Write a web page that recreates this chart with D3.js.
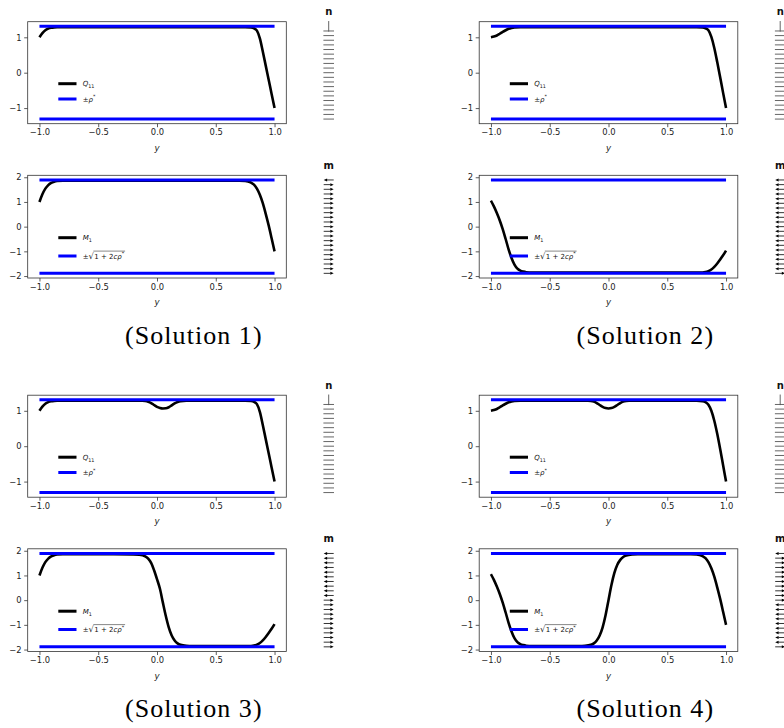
<!DOCTYPE html>
<html><head><meta charset="utf-8">
<script src="https://cdn.jsdelivr.net/npm/d3@7"></script>
<style>body{margin:0;background:#fff} svg{display:block}</style>
</head><body>
<svg id="c" width="784" height="728"></svg>
<script>
// ---------------- data ----------------
const rhoStar = 1.31;          // ±ρ*
const mBound = 1.89;           // ±sqrt(1+2cρ*)
const xTicks = [-1, -0.5, 0, 0.5, 1];
const qTicks = [-1, 0, 1];
const mTicks = [-2, -1, 0, 1, 2];
const captions = ["(Solution 1)", "(Solution 2)", "(Solution 3)", "(Solution 4)"];

const q1Y = [-1,-0.975,-0.95,-0.925,-0.9,-0.875,-0.85,-0.8,-0.7,-0.5,0,0.5,0.7,0.75,0.8,0.825,0.85,0.875,0.9,0.925,0.95,0.975,1];
const q1V = [1.0,1.12,1.20,1.245,1.268,1.279,1.283,1.285,1.285,1.285,1.285,1.285,1.285,1.284,1.275,1.255,1.19,0.97,0.60,0.20,-0.20,-0.60,-1.0];
const m1Y = [-1,-0.975,-0.95,-0.925,-0.9,-0.875,-0.85,-0.8,-0.7,0,0.65,0.7,0.75,0.775,0.8,0.825,0.85,0.875,0.9,0.925,0.95,0.975,1];
const m1V = [1.0,1.31,1.54,1.68,1.77,1.82,1.845,1.86,1.86,1.86,1.86,1.858,1.85,1.83,1.785,1.70,1.54,1.29,0.95,0.52,0.05,-0.47,-1.0];

const q2Y = [-1,-0.975,-0.95,-0.925,-0.9,-0.875,-0.85,-0.825,-0.8,-0.75,-0.7,0,0.7,0.75,0.8,0.825,0.85,0.875,0.9,0.925,0.95,0.975,1];
const q2V = [1.0,1.02,1.05,1.10,1.155,1.20,1.24,1.265,1.278,1.285,1.285,1.285,1.285,1.284,1.275,1.255,1.20,1.01,0.70,0.30,-0.13,-0.57,-1.0];
const m2Y = [-1,-0.975,-0.95,-0.925,-0.9,-0.875,-0.85,-0.825,-0.8,-0.775,-0.75,-0.725,-0.7,-0.65,0,0.75,0.8,0.825,0.85,0.875,0.9,0.925,0.95,0.975,1];
const m2V = [1.05,0.82,0.55,0.25,-0.10,-0.50,-0.92,-1.27,-1.54,-1.70,-1.78,-1.82,-1.845,-1.86,-1.86,-1.86,-1.855,-1.84,-1.80,-1.735,-1.63,-1.49,-1.33,-1.16,-0.97];

const q3Y = [-1,-0.975,-0.95,-0.925,-0.9,-0.875,-0.85,-0.8,-0.5,-0.125,-0.1,-0.075,-0.05,-0.025,0,0.025,0.05,0.075,0.1,0.125,0.15,0.175,0.2,0.25,0.5,0.75,0.8,0.825,0.85,0.875,0.9,0.925,0.95,0.975,1];
const q3V = [1.0,1.12,1.20,1.245,1.268,1.279,1.283,1.285,1.285,1.285,1.275,1.255,1.22,1.165,1.11,1.08,1.066,1.07,1.10,1.155,1.21,1.25,1.272,1.285,1.285,1.284,1.275,1.255,1.19,0.97,0.60,0.20,-0.20,-0.60,-1.0];
const m3Y = [-1,-0.975,-0.95,-0.925,-0.9,-0.875,-0.85,-0.8,-0.5,-0.2,-0.15,-0.1,-0.075,-0.05,-0.025,0,0.025,0.05,0.075,0.1,0.125,0.15,0.175,0.2,0.25,0.3,0.75,0.8,0.825,0.85,0.875,0.9,0.925,0.95,0.975,1];
const m3V = [1.0,1.31,1.54,1.68,1.77,1.82,1.845,1.86,1.86,1.855,1.84,1.77,1.68,1.51,1.21,0.85,0.46,-0.10,-0.64,-1.10,-1.43,-1.63,-1.75,-1.81,-1.85,-1.86,-1.86,-1.855,-1.84,-1.80,-1.735,-1.63,-1.49,-1.33,-1.16,-0.97];

const q4Y = [-1,-0.975,-0.95,-0.925,-0.9,-0.875,-0.85,-0.825,-0.8,-0.75,-0.5,-0.175,-0.15,-0.125,-0.1,-0.075,-0.05,-0.025,0,0.025,0.05,0.075,0.1,0.125,0.15,0.175,0.5,0.75,0.8,0.825,0.85,0.875,0.9,0.925,0.95,0.975,1];
const q4V = [1.0,1.02,1.05,1.10,1.155,1.20,1.24,1.265,1.278,1.285,1.285,1.285,1.278,1.26,1.22,1.165,1.11,1.076,1.065,1.076,1.11,1.165,1.22,1.26,1.278,1.285,1.285,1.283,1.27,1.245,1.17,1.00,0.72,0.35,-0.08,-0.54,-1.0];
const m4Y = [-1,-0.975,-0.95,-0.925,-0.9,-0.875,-0.85,-0.825,-0.8,-0.775,-0.75,-0.725,-0.7,-0.65,-0.25,-0.2,-0.15,-0.125,-0.1,-0.075,-0.05,-0.025,0,0.025,0.05,0.075,0.1,0.125,0.15,0.2,0.25,0.65,0.7,0.75,0.775,0.8,0.825,0.85,0.875,0.9,0.925,0.95,0.975,1];
const m4V = [1.05,0.82,0.55,0.25,-0.10,-0.50,-0.92,-1.27,-1.54,-1.70,-1.78,-1.82,-1.845,-1.86,-1.86,-1.85,-1.81,-1.75,-1.63,-1.43,-1.10,-0.61,0.0,0.61,1.10,1.43,1.63,1.75,1.81,1.85,1.86,1.86,1.858,1.85,1.83,1.785,1.70,1.54,1.29,0.95,0.52,0.05,-0.47,-1.0];

// director / magnetisation glyphs at y = 1, 0.9, ..., -1 (top to bottom)
const glyphY = [1,0.9,0.8,0.7,0.6,0.5,0.4,0.3,0.2,0.1,0,-0.1,-0.2,-0.3,-0.4,-0.5,-0.6,-0.7,-0.8,-0.9,-1];
const nAng1 = [90,0,0,0,0,0,0,0,0,0,0,0,0,0,0,0,0,0,0,0,0];
const nAng2 = [90,0,0,0,0,0,0,0,0,0,0,0,0,0,0,0,0,0,0,0,0];
const nAng3 = [90,0,0,0,0,0,0,0,0,0,0,0,0,0,0,0,0,0,0,0,0];
const nAng4 = [90,0,0,0,0,0,0,0,0,0,0,0,0,0,0,0,0,0,0,0,0];
const mDir1 = [-1,1,1,1,1,1,1,1,1,1,1,1,1,1,1,1,1,1,1,1,1];
const mDir2 = [-1,-1,-1,-1,-1,-1,-1,-1,-1,-1,-1,-1,-1,-1,-1,-1,-1,-1,-1,-1,1];
const mDir3 = [-1,-1,-1,-1,-1,-1,-1,-1,-1,-1,1,1,1,1,1,1,1,1,1,1,1];
const mDir4 = [-1,1,1,1,1,1,1,1,1,1,1,-1,-1,-1,-1,-1,-1,-1,-1,-1,1];

// ---------------- drawing ----------------
const svg = d3.select("#c");
const FONT = "DejaVu Sans, sans-serif";
const offsets = [[0,0],[451.5,0],[0,373.5],[451.5,373.5]];
const sols = [
  {qY:q1Y,qV:q1V,mY:m1Y,mV:m1V,nA:nAng1,mD:mDir1},
  {qY:q2Y,qV:q2V,mY:m2Y,mV:m2V,nA:nAng2,mD:mDir2},
  {qY:q3Y,qV:q3V,mY:m3Y,mV:m3V,nA:nAng3,mD:mDir3},
  {qY:q4Y,qV:q4V,mY:m4Y,mV:m4V,nA:nAng4,mD:mDir4}
];
const B = {x0:27.7, x1:286.3, qTop:21.7, qBot:123.7, mTop:175.3, mBot:278.0, gx:328.7};

function richText(g, x, y, segs, fs, anchor) {
  const t = g.append("text").attr("x", x).attr("y", y)
    .attr("font-family", FONT).attr("font-size", fs).attr("fill", "#111")
    .attr("text-anchor", anchor || "start");
  let shift = 0;
  segs.forEach(s => {
    const ts = t.append("tspan").text(s.t);
    let target = 0, size = fs;
    if (s.sub) { target = fs*0.28; size = fs*0.7; }
    if (s.sup) { target = -fs*0.45; size = fs*0.7; }
    if (s.size) size = fs*s.size;
    ts.attr("dy", target - shift).attr("font-size", size);
    if (s.i) ts.attr("font-style", "italic");
    shift = target;
  });
  return t;
}

function frameAxes(g, x, y, top, bot, yt) {
  const ax = g.append("g").attr("transform", `translate(0,${bot})`)
    .call(d3.axisBottom(x).tickValues(xTicks).tickFormat(d3.format(".1f")).tickSize(3.5).tickPadding(2.2).tickSizeOuter(0));
  const ay = g.append("g").attr("transform", `translate(${B.x0},0)`)
    .call(d3.axisLeft(y).tickValues(yt).tickFormat(d3.format("d")).tickSize(3.5).tickPadding(2.5).tickSizeOuter(0));
  [ax, ay].forEach(a => {
    a.select(".domain").remove();
    a.selectAll("line").attr("stroke", "#333").attr("stroke-width", 0.8);
    a.selectAll("text").attr("font-family", FONT).attr("font-size", 8.4).attr("fill", "#222");
  });
  g.append("rect").attr("x", B.x0).attr("y", top).attr("width", B.x1 - B.x0).attr("height", bot - top)
    .attr("fill", "none").attr("stroke", "#333").attr("stroke-width", 0.8);
  g.append("text").attr("x", x(0)).attr("y", bot + 27).attr("text-anchor", "middle")
    .attr("font-family", FONT).attr("font-size", 8.6).attr("font-style", "italic").attr("fill", "#222").text("y");
}

sols.forEach((s, i) => {
  const [ox, oy] = offsets[i];
  const g = svg.append("g").attr("transform", `translate(${ox},${oy})`);
  const x = d3.scaleLinear().domain([-1.1, 1.1]).range([B.x0, B.x1]);
  const yq = d3.scaleLinear().domain([-1.441, 1.441]).range([B.qBot, B.qTop]);
  const ym = d3.scaleLinear().domain([-2.079, 2.079]).range([B.mBot, B.mTop]);
  const line = (yy) => d3.line().x(d => x(d[0])).y(d => yy(d[1])).curve(d3.curveMonotoneX);

  // ---- Q panel ----
  frameAxes(g, x, yq, B.qTop, B.qBot, qTicks);
  g.append("path").datum(s.qY.map((v, k) => [v, s.qV[k]])).attr("d", line(yq))
    .attr("fill", "none").attr("stroke", "#000").attr("stroke-width", 2.6).attr("stroke-linejoin", "round");
  [rhoStar, -rhoStar].forEach(v => {
    g.append("path").datum([[-1, v], [1, v]]).attr("d", line(yq))
      .attr("fill", "none").attr("stroke", "#0000ff").attr("stroke-width", 3);
  });
  // legend
  const lq = [{c:"#000", y:B.qTop + 62}, {c:"#0000ff", y:B.qTop + 77.3}];
  lq.forEach(l => g.append("line").attr("x1", 58.3).attr("x2", 76.5).attr("y1", l.y).attr("y2", l.y)
    .attr("stroke", l.c).attr("stroke-width", 3));
  richText(g, 82.7, lq[0].y + 2.5, [{t:"Q", i:true}, {t:"11", sub:true}], 7);
  richText(g, 82.7, lq[1].y + 2.5, [{t:"±"}, {t:"ρ", i:true}, {t:"*", sup:true}], 7);

  // ---- M panel ----
  frameAxes(g, x, ym, B.mTop, B.mBot, mTicks);
  g.append("path").datum(s.mY.map((v, k) => [v, s.mV[k]])).attr("d", line(ym))
    .attr("fill", "none").attr("stroke", "#000").attr("stroke-width", 2.6).attr("stroke-linejoin", "round");
  [mBound, -mBound].forEach(v => {
    g.append("path").datum([[-1, v], [1, v]]).attr("d", line(ym))
      .attr("fill", "none").attr("stroke", "#0000ff").attr("stroke-width", 3);
  });
  const lm = [{c:"#000", y:B.mTop + 62.4}, {c:"#0000ff", y:B.mTop + 80.7}];
  lm.forEach(l => g.append("line").attr("x1", 58.3).attr("x2", 76.5).attr("y1", l.y).attr("y2", l.y)
    .attr("stroke", l.c).attr("stroke-width", 3));
  richText(g, 82.7, lm[0].y + 2.5, [{t:"M", i:true}, {t:"1", sub:true}], 7);
  const pm = richText(g, 82.7, lm[1].y + 2.5, [{t:"±"}, {t:"√", size:1.2}], 7);
  const pw = pm.node().getComputedTextLength();
  const rad = richText(g, 82.7 + pw + 0.3, lm[1].y + 2.5, [{t:"1 + 2"}, {t:"cρ", i:true}, {t:"*", sup:true}], 7);
  const rw = rad.node().getComputedTextLength();
  g.append("line").attr("x1", 82.7 + pw - 0.6).attr("x2", 82.7 + pw + rw + 1.2)
    .attr("y1", lm[1].y - 4.9).attr("y2", lm[1].y - 4.9).attr("stroke", "#111").attr("stroke-width", 0.5);

  // ---- glyph columns ----
  const gq = d3.scaleLinear().domain([-1.1, 1.1]).range([B.qBot, B.qTop]);
  const gm = d3.scaleLinear().domain([-1.1, 1.1]).range([B.mBot, B.mTop]);
  const half = 5.3;
  g.append("text").attr("x", B.gx).attr("y", B.qTop - 6.5).attr("text-anchor", "middle")
    .attr("font-family", FONT).attr("font-weight", "bold").attr("font-size", 10).attr("fill", "#111").text("n");
  g.append("text").attr("x", B.gx).attr("y", B.mTop - 6.5).attr("text-anchor", "middle")
    .attr("font-family", FONT).attr("font-weight", "bold").attr("font-size", 10).attr("fill", "#111").text("m");
  g.selectAll(null).data(glyphY.map((v, k) => ({y:v, a:s.nA[k]}))).enter().append("line")
    .attr("x1", d => B.gx - half*Math.cos(d.a*Math.PI/180))
    .attr("x2", d => B.gx + half*Math.cos(d.a*Math.PI/180))
    .attr("y1", d => gq(d.y) + half*Math.sin(d.a*Math.PI/180))
    .attr("y2", d => gq(d.y) - half*Math.sin(d.a*Math.PI/180))
    .attr("stroke", "#555").attr("stroke-width", 0.9);
  g.selectAll(null).data(glyphY.map((v, k) => ({y:v, d:s.mD[k]}))).enter().append("path")
    .attr("d", d => {
      const cy = gm(d.y), tip = B.gx + d.d*5, tail = B.gx - d.d*5, hb = tip - d.d*3.2;
      return `M${tail},${cy}L${hb},${cy}`;
    }).attr("stroke", "#000").attr("stroke-width", 0.8).attr("fill", "none");
  g.selectAll(null).data(glyphY.map((v, k) => ({y:v, d:s.mD[k]}))).enter().append("path")
    .attr("d", d => {
      const cy = gm(d.y), tip = B.gx + d.d*5, hb = tip - d.d*3.4;
      return `M${tip},${cy}L${hb},${cy-1.5}L${hb},${cy+1.5}Z`;
    }).attr("fill", "#000");

  // caption
  g.append("text").attr("x", 193.3).attr("y", 343.5).attr("text-anchor", "middle")
    .attr("font-family", "Liberation Serif, serif").attr("font-size", 26)
    .attr("textLength", 136.5).attr("lengthAdjust", "spacing").attr("fill", "#000").text(captions[i]);
});
</script>
</body></html>
